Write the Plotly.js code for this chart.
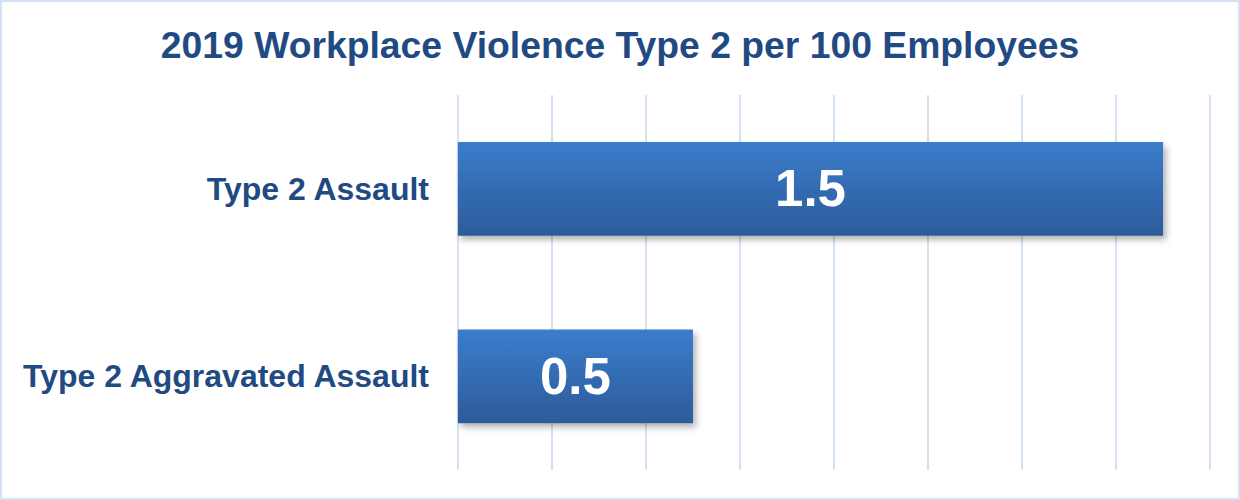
<!DOCTYPE html>
<html>
<head>
<meta charset="utf-8">
<script src="https://cdn.plot.ly/plotly-3.0.1.min.js"></script>
<style>
  html, body { margin: 0; padding: 0; background: #ffffff; }
  #wrap { position: relative; width: 1240px; height: 500px; }
  #chart { width: 1240px; height: 500px; }
  #frame { position: absolute; left: 0; top: 0; width: 1240px; height: 500px; box-sizing: border-box; border: 2px solid #d5e2f3; pointer-events: none; }
</style>
</head>
<body>
<div id="wrap">
  <div id="chart"></div>
  <div id="frame"></div>
</div>
<script>
const categories = ['Type 2 Assault', 'Type 2 Aggravated Assault'];
const values = [1.5, 0.5];
const valueLabels = ['1.5', '0.5'];
const chartTitle = '2019 Workplace Violence Type 2 per 100 Employees';

const textColor = '#1f4b82';
const fontFam = 'Arial, "Liberation Sans", sans-serif';

const trace = {
  type: 'bar',
  orientation: 'h',
  y: categories,
  x: values,
  text: valueLabels,
  textposition: 'inside',
  insidetextanchor: 'middle',
  textangle: 0,
  constraintext: 'none',
  textfont: { family: fontFam, size: 51, color: '#ffffff', weight: 'bold' },
  marker: { color: '#3468ae', line: { width: 0 } },
  width: 0.5,
  hoverinfo: 'none'
};

const layout = {
  width: 1240,
  height: 500,
  margin: { l: 456, r: 28, t: 95, b: 30 },
  paper_bgcolor: '#ffffff',
  plot_bgcolor: '#ffffff',
  showlegend: false,
  title: {
    text: '<b>' + chartTitle + '</b>',
    font: { family: fontFam, size: 37.3, color: textColor },
    x: 0.5, xanchor: 'center',
    y: 0.91, yref: 'container', yanchor: 'middle'
  },
  xaxis: {
    range: [-0.004, 1.604],
    dtick: 0.2,
    tick0: 0,
    showgrid: true,
    gridcolor: '#d5e2f3',
    gridwidth: 2,
    zeroline: false,
    showline: false,
    showticklabels: false,
    fixedrange: true
  },
  yaxis: {
    autorange: 'reversed',
    showgrid: false,
    zeroline: false,
    showline: false,
    ticks: '',
    ticklabelstandoff: 26,
    tickfont: { family: fontFam, size: 32, color: textColor, weight: 'bold' },
    fixedrange: true
  }
};

Plotly.newPlot('chart', [trace], layout, { displayModeBar: false, staticPlot: true }).then(function (gd) {
  // Apply the vertical gradient and soft shadow seen on the reference bars
  const svg = gd.querySelector('svg.main-svg');
  const ns = 'http://www.w3.org/2000/svg';
  let defs = svg.querySelector('defs');
  if (!defs) { defs = document.createElementNS(ns, 'defs'); svg.insertBefore(defs, svg.firstChild); }
  const grad = document.createElementNS(ns, 'linearGradient');
  grad.setAttribute('id', 'barGrad');
  grad.setAttribute('x1', '0'); grad.setAttribute('y1', '0');
  grad.setAttribute('x2', '0'); grad.setAttribute('y2', '1');
  [['0%', '#3b7dcb'], ['100%', '#2c5b9a']].forEach(function (s) {
    const st = document.createElementNS(ns, 'stop');
    st.setAttribute('offset', s[0]); st.setAttribute('stop-color', s[1]);
    grad.appendChild(st);
  });
  defs.appendChild(grad);
  const filt = document.createElementNS(ns, 'filter');
  filt.setAttribute('id', 'barShadow');
  filt.setAttribute('x', '-5%'); filt.setAttribute('y', '-10%');
  filt.setAttribute('width', '115%'); filt.setAttribute('height', '130%');
  const ds = document.createElementNS(ns, 'feDropShadow');
  ds.setAttribute('dx', '3'); ds.setAttribute('dy', '4');
  ds.setAttribute('stdDeviation', '3');
  ds.setAttribute('flood-color', '#000000'); ds.setAttribute('flood-opacity', '0.3');
  filt.appendChild(ds);
  defs.appendChild(filt);
  gd.querySelectorAll('.barlayer .point path').forEach(function (p) {
    p.style.fill = 'url(#barGrad)';
    p.setAttribute('filter', 'url(#barShadow)');
  });
});
</script>
</body>
</html>
